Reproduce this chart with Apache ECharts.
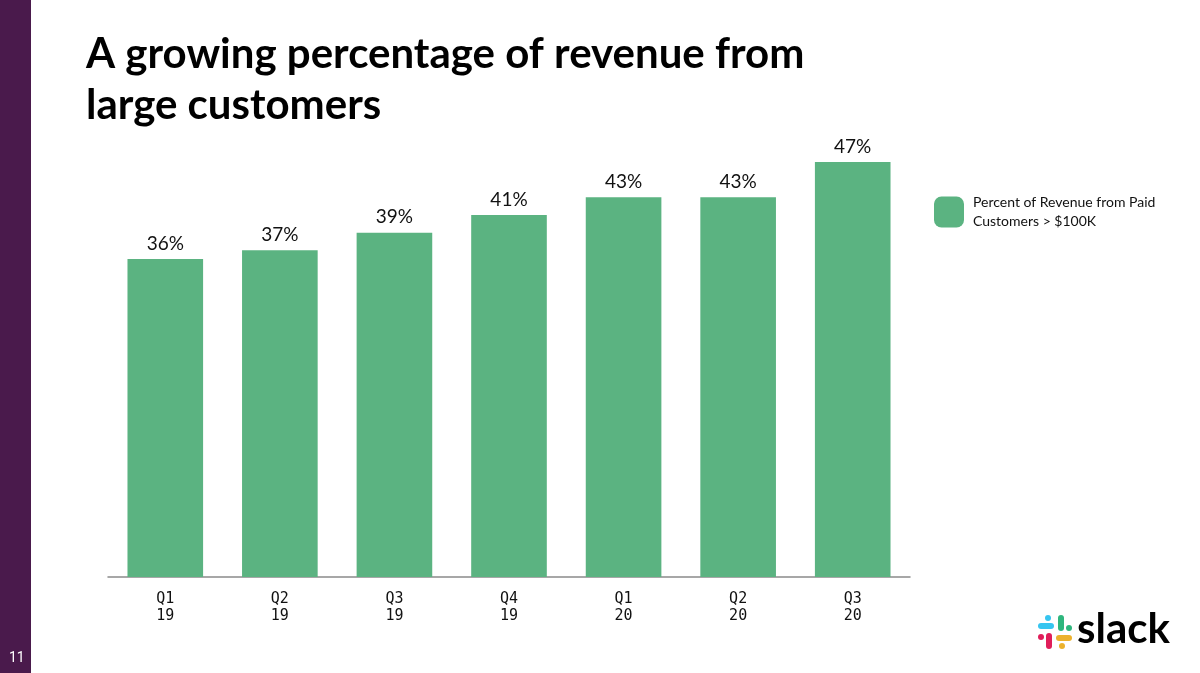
<!DOCTYPE html>
<html>
<head>
<meta charset="utf-8">
<script src="https://cdn.jsdelivr.net/npm/echarts@6/dist/echarts.min.js"></script>
<style>
html,body{margin:0;padding:0;background:#fff;}
#chart{width:1200px;height:673px;}
</style>
</head>
<body>
<div id="chart"></div>
<script>
const categories = ['Q1\n19','Q2\n19','Q3\n19','Q4\n19','Q1\n20','Q2\n20','Q3\n20'];
const revenueShare = [36, 37, 39, 41, 43, 43, 47];
const seriesName = 'Percent of Revenue from Paid\nCustomers > $100K';
const titleText = 'A growing percentage of revenue from\nlarge customers';
const pageNumber = '11';

const chart = echarts.init(document.getElementById('chart'));
const green = '#5bb381';

chart.setOption({
  backgroundColor: '#ffffff',
  animation: false,
  title: {
    text: titleText,
    left: 86,
    top: 29,
    padding: 0,
    textStyle: {
      fontFamily: 'Lato',
      fontWeight: 'bold',
      fontSize: 42,
      lineHeight: 51,
      color: '#000000'
    }
  },
  legend: {
    data: [seriesName],
    left: 934,
    top: 193,
    padding: 0,
    itemWidth: 30,
    itemHeight: 31,
    itemGap: 10,
    icon: 'roundRect',
    textStyle: {
      fontFamily: 'Lato',
      fontSize: 14,
      lineHeight: 19,
      color: '#111111',
      padding: [0, 0, 0, 4]
    }
  },
  grid: {
    left: 108,
    right: 290,
    top: 135.5,
    bottom: 96,
    containLabel: false
  },
  xAxis: {
    type: 'category',
    data: categories,
    axisLine: { lineStyle: { color: '#8a8a8a', width: 1.5 } },
    axisTick: { show: false },
    axisLabel: {
      margin: 14,
      fontFamily: 'DejaVu Sans Mono',
      fontSize: 15,
      lineHeight: 17,
      color: '#111111'
    }
  },
  yAxis: {
    type: 'value',
    min: 0,
    max: 50,
    show: false,
    splitLine: { show: false }
  },
  graphic: [
    { type: 'rect', shape: { x: 0, y: 0, width: 31, height: 673 }, style: { fill: '#4a1a4c' } },
    { type: 'text', left: 9, top: 651, style: { text: pageNumber, fill: '#ffffff', fontFamily: 'Roboto', fontSize: 14 } },
    // slack logo
    { type: 'rect', shape: { x: 1038, y: 623, width: 16, height: 6, r: 3 }, style: { fill: '#36c5f0' } },
    { type: 'rect', shape: { x: 1045, y: 615, width: 6, height: 6, r: 3 }, style: { fill: '#36c5f0' } },
    { type: 'rect', shape: { x: 1058, y: 615, width: 6, height: 16, r: 3 }, style: { fill: '#2eb67d' } },
    { type: 'rect', shape: { x: 1066, y: 625, width: 6, height: 6, r: 3 }, style: { fill: '#2eb67d' } },
    { type: 'rect', shape: { x: 1046, y: 633, width: 6, height: 16, r: 3 }, style: { fill: '#e01e5a' } },
    { type: 'rect', shape: { x: 1038, y: 634, width: 6, height: 6, r: 3 }, style: { fill: '#e01e5a' } },
    { type: 'rect', shape: { x: 1056, y: 635, width: 16, height: 6, r: 3 }, style: { fill: '#ecb22e' } },
    { type: 'rect', shape: { x: 1059, y: 643, width: 6, height: 6, r: 3 }, style: { fill: '#ecb22e' } },
    { type: 'text', left: 1077, top: 608, style: { text: 'slack', fill: '#000000', fontFamily: 'Lato', fontWeight: 'bold', fontSize: 42 } }
  ],
  series: [{
    name: seriesName,
    type: 'bar',
    data: revenueShare,
    barWidth: '66%',
    itemStyle: { color: green },
    label: {
      show: true,
      position: 'top',
      distance: 6,
      formatter: '{c}%',
      fontFamily: 'Lato',
      fontSize: 19,
      color: '#111111'
    }
  }]
});
</script>
</body>
</html>
